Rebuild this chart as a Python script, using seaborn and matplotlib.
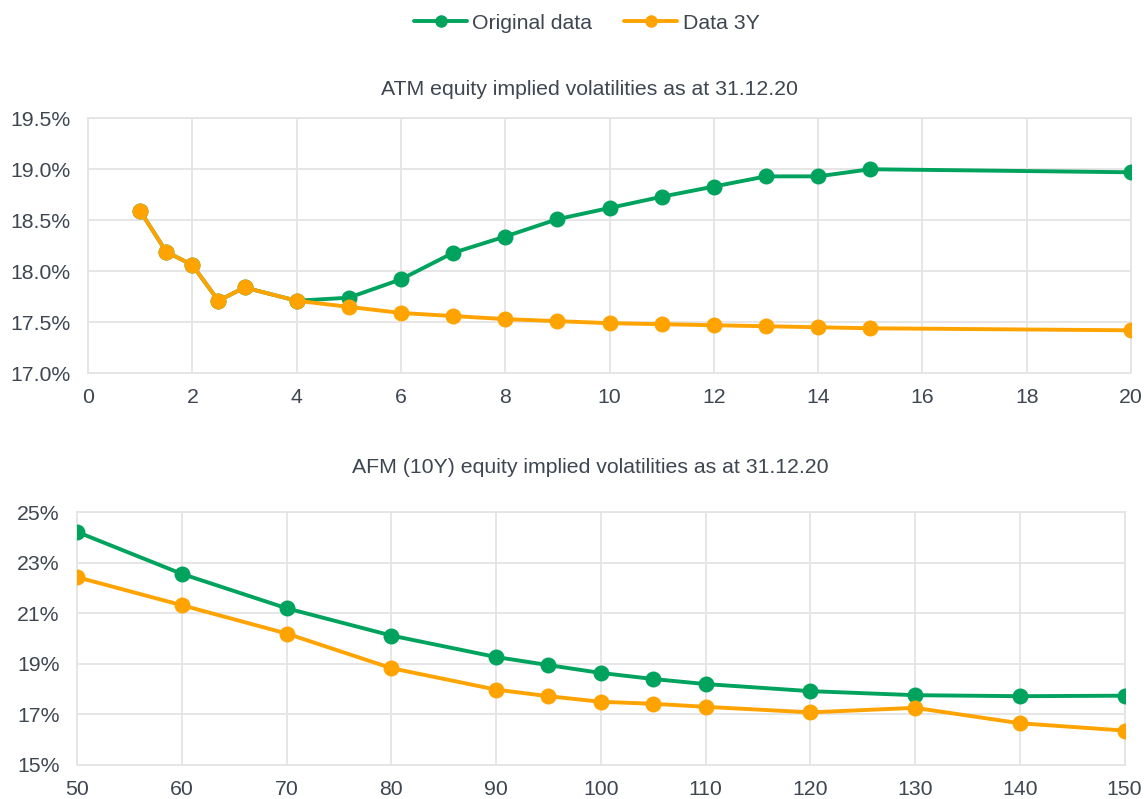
import pandas as pd
import matplotlib.pyplot as plt
import seaborn as sns
from matplotlib.ticker import FuncFormatter

# ATM chart: maturity (years) vs implied vol (%)
atm_maturity = [1, 1.5, 2, 2.5, 3, 4, 5, 6, 7, 8, 9, 10, 11, 12, 13, 14, 15, 20]
atm_original = [18.59, 18.19, 18.06, 17.71, 17.84, 17.71, 17.74, 17.92, 18.18, 18.34,
                18.51, 18.62, 18.73, 18.83, 18.93, 18.93, 19.00, 18.97]
atm_3y = [18.59, 18.19, 18.06, 17.71, 17.84, 17.71, 17.65, 17.59, 17.56, 17.53,
          17.51, 17.49, 17.48, 17.47, 17.46, 17.45, 17.44, 17.42]

# AFM (10Y) chart: moneyness (%) vs implied vol (%)
afm_strike = [50, 60, 70, 80, 90, 95, 100, 105, 110, 120, 130, 140, 150]
afm_original = [24.22, 22.56, 21.20, 20.12, 19.27, 18.95, 18.64, 18.40, 18.20, 17.92,
                17.76, 17.72, 17.74]
afm_3y = [22.43, 21.32, 20.20, 18.83, 17.98, 17.72, 17.50, 17.42, 17.30, 17.08,
          17.26, 16.65, 16.36]

series_names = ["Original data", "Data 3Y"]
colors = {"Original data": "#00A35E", "Data 3Y": "#FFA300"}
text_col = "#3F4651"
grid_col = "#E4E4E4"
fs = 15.3

atm_df = pd.concat([
    pd.DataFrame({"x": atm_maturity, "vol": atm_original, "series": series_names[0]}),
    pd.DataFrame({"x": atm_maturity, "vol": atm_3y, "series": series_names[1]}),
])
afm_df = pd.concat([
    pd.DataFrame({"x": afm_strike, "vol": afm_original, "series": series_names[0]}),
    pd.DataFrame({"x": afm_strike, "vol": afm_3y, "series": series_names[1]}),
])

sns.set_style("white")
plt.rcParams['font.family'] = ['Liberation Sans', 'DejaVu Sans']

fig = plt.figure(figsize=(11.44, 7.99), dpi=100)
ax1 = fig.add_axes([0.077, 0.533, 0.9116, 0.319])
ax2 = fig.add_axes([0.0673, 0.0426, 0.9157, 0.3164])


def style_axis(ax):
    ax.grid(True, color=grid_col, linewidth=1.3)
    for s in ax.spines.values():
        s.set_color(grid_col)
        s.set_linewidth(1.3)
    ax.tick_params(axis='both', length=0, labelsize=fs, colors=text_col)
    ax.tick_params(axis='x', pad=10.5)
    ax.tick_params(axis='y', pad=12.5)
    ax.set_xlabel("")
    ax.set_ylabel("")


sns.lineplot(data=atm_df, x="x", y="vol", hue="series", palette=colors, marker="o",
             markersize=11.5, markeredgewidth=0, linewidth=2.8, ax=ax1, legend=False,
             zorder=3)
ax1.set_xlim(0, 20)
ax1.set_ylim(17.0, 19.5)
ax1.set_xticks(range(0, 21, 2))
ax1.set_yticks([17.0, 17.5, 18.0, 18.5, 19.0, 19.5])
ax1.yaxis.set_major_formatter(FuncFormatter(lambda v, p: f"{v:.1f}%"))
style_axis(ax1)
ax1.set_title("ATM equity implied volatilities as at 31.12.20", fontsize=fs,
              color=text_col, pad=17, x=0.481)

sns.lineplot(data=afm_df, x="x", y="vol", hue="series", palette=colors, marker="o",
             markersize=11.5, markeredgewidth=0, linewidth=2.8, ax=ax2, legend=False,
             zorder=3)
ax2.set_xlim(50, 150)
ax2.set_ylim(15, 25)
ax2.set_xticks(range(50, 151, 10))
ax2.set_yticks(range(15, 26, 2))
ax2.yaxis.set_major_formatter(FuncFormatter(lambda v, p: f"{v:.0f}%"))
style_axis(ax2)
ax2.set_title("AFM (10Y) equity implied volatilities as at 31.12.20", fontsize=fs,
              color=text_col, pad=28.5, x=0.49)

handles = [plt.Line2D([], [], color=colors[n], marker="o", markersize=8, linewidth=2.8,
                      label=n) for n in series_names]
fig.legend(handles=handles, loc="upper center", bbox_to_anchor=(0.513, 1.007), ncol=2,
           frameon=False, fontsize=fs, labelcolor=text_col, handlelength=2.5,
           columnspacing=1.5, handletextpad=0.25)

fig.savefig("out.png", dpi=100)
